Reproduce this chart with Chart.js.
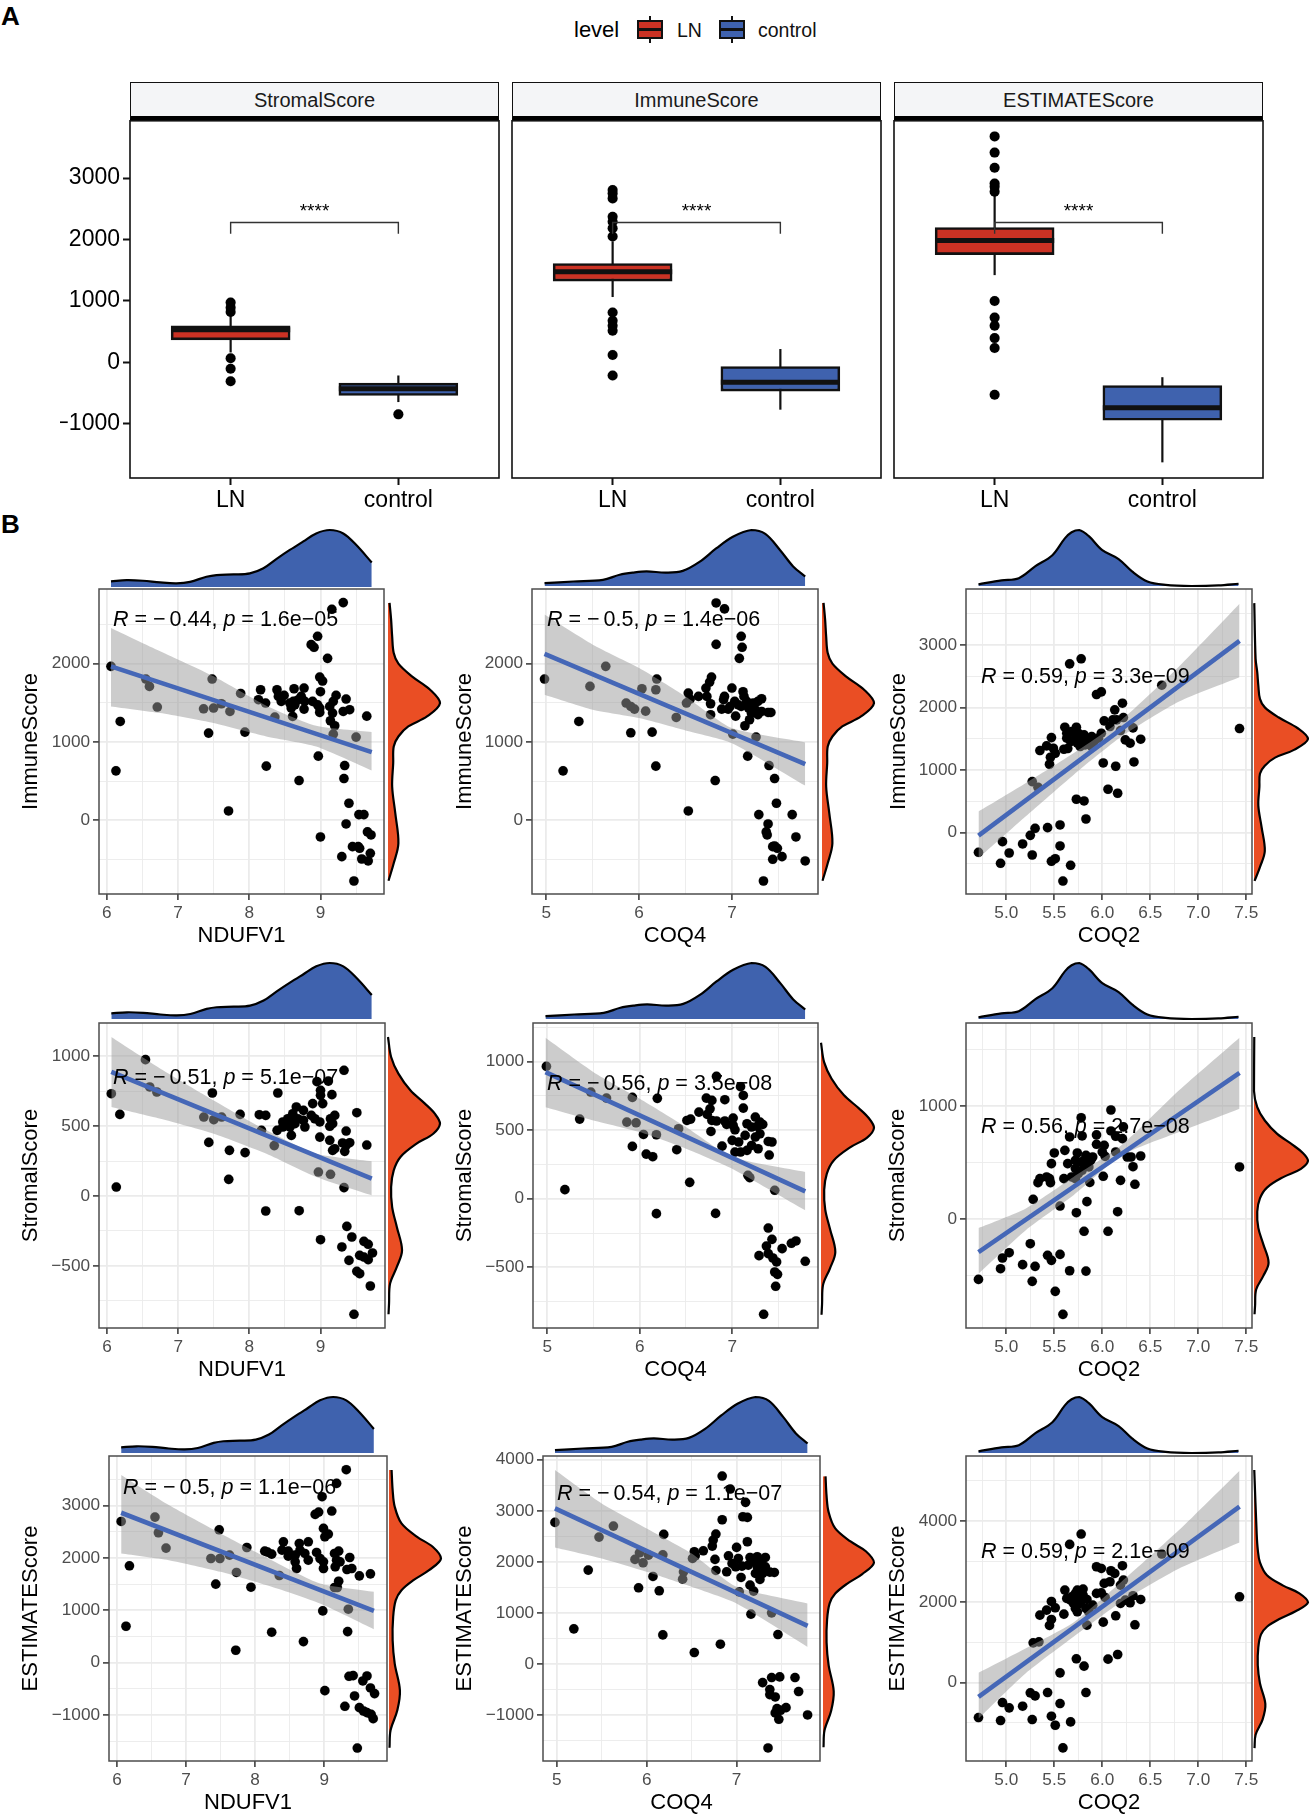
<!DOCTYPE html>
<html>
<head>
<meta charset="utf-8">
<title>Scores</title>
<script src="https://cdn.jsdelivr.net/npm/chart.js@4/dist/chart.umd.min.js"></script>
<style>
  body { margin: 0; background: #fff; }
  #page { position: relative; width: 1315px; height: 1818px; overflow: hidden; font-family: "Liberation Sans", Arial, sans-serif; }
  canvas { position: absolute; }
  .txt { position: absolute; white-space: pre; }
  .tag { font-size: 26px; font-weight: bold; color: #000; }
  .strip { position: absolute; box-sizing: border-box; border: 1.5px solid #111; border-bottom: 4px solid #000; background: #f4f5f7; font-size: 20px; color: #1a1a1a; text-align: center; line-height: 35px; }
  .rlab { position: absolute; white-space: pre; font-size: 21.5px; color: #000; transform: translateY(-50%); }
  .rlab .m { margin-right: 4px; }
  .key { position: absolute; box-sizing: border-box; border: 2.5px solid #111; }
  .key i { position: absolute; left: 0; right: 0; top: 50%; height: 3px; margin-top: -1.5px; background: #111; }
  .wh { position: absolute; width: 2px; background: #111; }
</style>
</head>
<body>
<div id="page"></div>
<script>
// panel A: box statistics, index 0 = LN, 1 = control
const boxCategories = ["LN", "control"];
const facetNames = ["StromalScore", "ImmuneScore", "ESTIMATEScore"];
const boxYTicks = [-1000, 0, 1000, 2000, 3000];

const stromalLow = [160, -648];
const stromalQ1 = [365, -540];
const stromalMedian = [530, -430];
const stromalQ3 = [592, -340];
const stromalHigh = [830, -215];
const stromalOutLN = [975, 890, 820, 65, -105, -310];
const stromalOutControl = [-848];

const immuneLow = [1063, -772];
const immuneQ1 = [1322, -470];
const immuneMedian = [1473, -324];
const immuneQ3 = [1608, -70];
const immuneHigh = [1970, 216];
const immuneOutLN = [2806, 2750, 2670, 2370, 2290, 2185, 2050, 810, 675, 594, 513, 119, -216];
const immuneOutControl = [];

const estimateLow = [1420, -1630];
const estimateQ1 = [1754, -944];
const estimateMedian = [1986, -740];
const estimateQ3 = [2196, -378];
const estimateHigh = [2750, -243];
const estimateOutLN = [3680, 3416, 3168, 2914, 2860, 2780, 998, 728, 594, 394, 232, -529];
const estimateOutControl = [];

// panel B: scatter values read per panel
const immuneNdufv1X = [9.32,9.16,8.96,8.87,8.91,9.10,6.06,8.99,9.03,6.55,7.48,6.60,8.77,8.63,8.16,8.39,7.88,9.00,9.22,9.36,8.49,8.41,8.13,8.23,8.45,8.73,8.78,8.69,8.62,8.57,8.64,8.89,8.96,9.18,9.13,8.99,8.59,8.77,6.71,7.36,7.50,7.61,7.73,9.41,9.32,9.17,8.99,8.61,8.36,9.65,9.14,6.19,9.20,7.43,7.94,9.18,9.50,8.97,9.34,8.24,6.13,9.33,8.70,9.40,7.71,9.54,9.61,9.36,9.66,9.71,9.00,9.45,9.53,9.55,9.70,9.30,9.58,9.67,9.47];
const immuneNdufv1Y = [2780,2695,2350,2243,2209,2068,1966,1829,1778,1804,1804,1710,1689,1680,1667,1667,1620,1642,1595,1548,1595,1582,1540,1497,1518,1582,1518,1540,1518,1497,1475,1518,1475,1518,1454,1433,1433,1420,1446,1424,1433,1488,1390,1412,1390,1369,1377,1326,1318,1330,1271,1262,1207,1113,1126,1100,1062,819,699,691,631,533,507,217,119,72,72,-47,-149,-188,-213,-337,-337,-358,-422,-465,-495,-520,-776];

const immuneCoq4X = [6.83,6.92,7.10,6.83,7.11,7.08,5.64,4.98,6.19,6.78,6.76,5.47,6.72,7.00,6.03,6.18,7.12,6.53,6.64,6.73,6.92,7.13,7.32,6.91,6.55,6.51,6.77,7.03,7.07,7.16,7.23,7.28,6.98,6.89,6.96,7.10,7.18,7.25,7.32,7.39,7.42,7.28,7.21,5.86,5.91,5.95,6.07,6.77,7.04,6.40,7.19,7.14,5.91,6.14,7.01,7.26,5.35,7.17,7.40,6.18,5.18,7.46,6.82,7.48,6.53,7.29,7.65,7.39,7.37,7.38,7.69,7.44,7.46,7.49,7.54,7.44,7.79,7.34];
const immuneCoq4Y = [2776,2700,2350,2247,2209,2068,1966,1804,1804,1829,1765,1710,1689,1689,1680,1667,1642,1625,1582,1582,1582,1582,1552,1540,1548,1497,1488,1518,1475,1518,1497,1518,1454,1420,1420,1454,1433,1412,1390,1377,1377,1348,1369,1497,1454,1420,1394,1348,1330,1313,1284,1207,1117,1126,1100,1062,1262,819,699,691,631,533,507,217,119,72,72,-47,-149,-188,-213,-337,-328,-358,-465,-499,-520,-776];

const immuneCoq2X = [5.78,5.66,6.62,5.94,5.99,6.21,6.13,6.22,6.02,6.11,6.15,5.61,5.73,7.43,5.47,6.32,5.99,6.08,6.19,5.63,5.68,5.75,5.81,5.89,5.63,5.72,5.79,5.86,5.67,5.74,5.77,5.82,5.91,5.42,5.49,5.35,5.60,5.64,5.51,5.46,5.45,6.24,6.29,6.40,6.01,6.14,6.33,5.27,5.33,6.06,6.16,5.73,5.81,5.83,5.56,5.30,5.43,5.25,4.96,5.17,5.56,5.03,5.27,5.51,5.47,4.71,4.94,5.67,5.59,5.89,5.96];
const immuneCoq2Y = [2776,2696,2355,2206,2248,2067,1961,1838,1785,1801,1801,1684,1684,1662,1518,1673,1588,1694,1630,1588,1614,1588,1561,1534,1508,1508,1481,1454,1454,1428,1375,1401,1438,1385,1348,1311,1332,1343,1268,1204,1092,1481,1428,1492,1113,1060,1129,815,725,693,629,533,506,218,123,69,80,-43,-144,-181,-213,-325,-357,-416,-458,-314,-490,-522,-773,1375,1508];

const stromalNdufv1X = [9.33,6.54,8.95,9.11,9.00,9.00,9.16,6.06,7.48,8.40,6.60,6.70,9.03,8.89,8.66,8.76,9.51,7.87,8.14,8.23,8.87,6.18,9.20,9.14,9.17,9.13,8.99,8.92,8.61,8.54,8.47,8.59,8.68,8.76,8.47,8.57,8.64,8.78,7.50,7.36,7.61,8.17,8.39,8.59,9.36,8.99,9.13,9.31,9.41,9.65,9.20,9.34,9.17,9.36,7.43,8.35,7.72,7.94,8.97,9.14,7.71,6.13,9.33,8.23,8.70,9.37,9.00,9.44,9.61,9.67,9.30,9.73,9.55,9.61,9.67,9.40,9.51,9.55,9.70,9.47];
const stromalNdufv1Y = [898,974,817,821,755,719,724,731,736,736,779,743,660,660,636,612,595,583,581,576,576,583,576,552,517,498,529,552,588,552,529,529,552,540,493,493,517,493,545,564,564,469,469,433,464,421,398,379,381,364,338,319,326,362,383,360,326,310,171,155,119,64,60,-107,-105,-217,-312,-293,-324,-345,-364,-407,-424,-436,-455,-460,-538,-555,-643,-845];

const stromalCoq4X = [6.83,4.99,7.09,7.12,6.19,5.92,5.47,5.64,6.72,6.78,6.92,7.12,6.76,6.64,6.73,7.25,7.01,5.35,6.55,6.51,6.78,6.83,6.92,7.16,7.30,7.33,6.94,7.01,7.27,7.21,7.03,5.86,5.96,6.42,6.77,6.04,6.18,7.14,7.30,7.25,7.00,7.07,7.39,7.43,7.21,7.28,5.92,6.89,6.40,7.16,7.03,7.09,6.07,6.14,7.40,7.17,7.19,6.54,5.19,7.46,6.18,6.82,7.39,7.43,7.69,7.64,7.37,7.54,7.29,7.39,7.44,7.48,7.79,7.46,7.49,7.47,7.34];
const stromalCoq4Y = [891,964,816,752,731,738,777,733,733,716,721,660,655,631,614,595,587,580,580,570,570,566,566,546,558,541,541,534,527,522,502,558,553,510,490,468,466,461,473,449,425,413,417,413,388,364,381,383,357,352,340,340,325,306,318,170,153,119,66,61,-109,-107,-214,-296,-308,-325,-345,-364,-415,-400,-432,-461,-456,-534,-551,-638,-842];

const stromalCoq2X = [6.09,5.78,6.22,6.09,5.79,5.66,5.94,6.14,6.21,5.94,6.02,5.61,5.50,5.74,5.83,5.90,6.00,6.03,6.14,6.26,6.30,6.40,7.43,5.47,5.64,5.72,5.77,5.84,5.72,5.79,6.32,5.42,5.35,5.33,5.45,5.46,5.60,5.72,6.01,6.19,5.87,6.34,5.28,5.84,5.56,5.73,6.16,5.81,6.06,5.25,5.03,4.96,5.43,5.47,5.56,5.17,5.30,4.94,5.66,5.83,4.71,5.27,5.51,5.59,5.86,5.75,5.68,5.81,5.88];
const stromalCoq2Y = [967,899,817,781,737,728,746,734,713,663,654,609,586,586,565,550,595,556,595,550,550,559,462,491,491,521,506,491,447,432,464,373,358,322,358,322,358,358,379,343,325,308,175,154,115,56,65,-109,-109,-219,-299,-346,-322,-367,-314,-405,-420,-441,-459,-462,-536,-553,-642,-846,462,402,373,521,521];

const estimateNdufv1X = [9.32,9.18,8.97,9.11,8.87,8.92,6.55,6.06,7.48,8.99,9.06,9.01,6.60,8.41,8.77,8.64,7.88,6.71,8.14,8.18,8.24,8.39,8.48,8.48,8.65,8.89,8.72,8.58,9.21,9.15,9.37,8.77,8.58,8.94,8.99,9.18,9.23,7.36,7.49,7.63,8.60,8.99,9.16,9.33,9.40,6.18,9.51,9.67,7.73,8.35,9.21,7.43,7.94,9.15,9.19,8.98,9.35,6.13,8.24,9.34,8.70,7.72,9.42,9.36,9.62,9.56,9.67,9.73,9.01,9.44,9.30,9.51,9.57,9.62,9.68,9.71,9.48];
const estimateNdufv1Y = [3682,3420,3166,2892,2828,2873,2777,2694,2535,2561,2452,2401,2478,2306,2306,2274,2197,2185,2127,2108,2070,2146,2127,2032,2146,2102,2083,2051,2127,2083,2006,1955,1924,1987,1924,1955,1924,1987,1987,2051,1796,1796,1828,1777,1796,1847,1656,1694,1720,1662,1554,1497,1439,1433,1433,987,1019,694,580,592,401,236,-248,-261,-255,-350,-484,-592,-535,-637,-834,-860,-924,-955,-987,-1070,-1631];

const estimateCoq4X = [6.84,6.93,7.10,7.07,7.12,6.84,4.98,5.63,6.19,6.77,5.47,7.12,6.74,6.73,7.00,6.63,6.53,5.92,6.54,6.91,6.02,6.18,7.02,7.15,7.23,7.32,6.51,6.76,5.87,5.96,6.95,7.06,6.99,7.19,7.28,7.13,7.23,7.32,7.37,7.42,6.77,6.89,6.41,7.21,7.29,7.05,7.26,6.07,6.40,7.15,5.91,5.35,7.19,6.14,7.03,7.16,7.39,5.19,6.18,7.46,6.82,6.53,7.29,7.39,7.48,7.65,7.37,7.69,7.37,7.43,7.55,7.45,7.49,7.43,7.47,7.79,7.35];
const estimateCoq4Y = [3681,3427,3166,2885,2872,2826,2774,2702,2539,2546,2487,2396,2428,2311,2285,2219,2200,2180,2121,2121,2134,2141,2069,2089,2102,2089,2069,2050,2050,1984,1971,1919,1906,2004,1971,1939,1906,1906,1802,1795,1834,1808,1808,1775,1775,1697,1658,1717,1664,1547,1495,1841,1430,1436,1416,979,1005,692,574,581,392,228,-359,-261,-248,-261,-496,-535,-594,-640,-849,-868,-901,-953,-1077,-992,-1638];

const estimateCoq2X = [5.78,5.66,6.62,6.21,5.94,5.99,6.09,6.13,6.22,6.08,6.02,6.19,5.61,5.80,5.74,5.94,5.99,6.03,6.32,6.24,5.47,6.40,6.29,6.19,5.68,5.63,5.75,5.84,5.70,5.77,5.90,5.72,5.42,5.51,5.60,5.83,5.86,5.35,5.47,5.45,6.14,6.01,5.84,6.34,5.28,5.34,6.16,6.06,5.73,5.81,5.56,5.25,5.30,5.43,5.83,4.96,5.56,5.03,5.17,5.47,5.27,4.71,4.94,5.67,5.51,5.59,7.43,5.72,5.67,5.80,5.74];
const estimateCoq2Y = [3678,3421,3182,2893,2868,2826,2769,2702,2537,2496,2455,2413,2289,2314,2289,2207,2223,2107,2149,2041,2008,2058,1975,1959,2124,2083,2083,2058,1959,1959,1917,1835,1793,1851,1694,1835,1752,1669,1562,1413,1653,1496,1421,1430,983,1008,694,579,587,405,240,-256,-331,-248,-248,-496,-521,-628,-587,-835,-917,-868,-942,-975,-1058,-1620,2124,2207,2041,2165,1752];

// regression fits and confidence bands
const col1BandX = [6.06, 6.75, 7.5, 8.24, 8.94, 9.72];
const col2BandX = [4.98, 5.5, 6, 6.5, 7, 7.79];
const col3BandX = [4.71, 5.2, 5.7, 6.2, 6.8, 7.43];

const immuneNdufv1Fit = [1966, 870];
const immuneNdufv1Up = [2456, 2158, 1838, 1463, 1207, 1126];
const immuneNdufv1Lo = [1454, 1369, 1241, 1070, 942, 635];
const immuneCoq4Fit = [2124, 716];
const immuneCoq4Up = [2627, 2243, 1945, 1582, 1177, 994];
const immuneCoq4Lo = [1603, 1412, 1305, 1147, 985, 443];
const immuneCoq2Fit = [-48, 3063];
const immuneCoq2Up = [336, 788, 1268, 1800, 2653, 3655];
const immuneCoq2Lo = [-410, 256, 922, 1534, 2094, 2483];

const stromalNdufv1Fit = [886, 124];
const stromalNdufv1Up = [1136, 910, 683, 469, 302, 248];
const stromalNdufv1Lo = [636, 552, 445, 302, 136, 5];
const stromalCoq4Fit = [922, 53];
const stromalCoq4Up = [1172, 922, 728, 522, 303, 194];
const stromalCoq4Lo = [667, 570, 485, 364, 218, -85];
const stromalCoq2Fit = [-293, 1296];
const stromalCoq2Up = [-80, 92, 373, 654, 1142, 1609];
const stromalCoq2Lo = [-485, -101, 210, 565, 772, 979];

const estimateNdufv1Fit = [2860, 987];
const estimateNdufv1Up = [3580, 3006, 2465, 1955, 1510, 1350];
const estimateNdufv1Lo = [2083, 1955, 1732, 1446, 1127, 637];
const estimateCoq4Fit = [3048, 751];
const estimateCoq4Up = [3800, 3146, 2657, 2167, 1514, 1188];
const estimateCoq4Lo = [2285, 2069, 1808, 1514, 1188, 339];
const estimateCoq2Fit = [-355, 4355];
const estimateCoq2Up = [240, 843, 1488, 2496, 3777, 5248];
const estimateCoq2Lo = [-893, 223, 1132, 2000, 2826, 3471];

// marginal densities, relative height at a value
const ndufv1DensX = [6.06,6.28,6.51,6.75,6.98,7.17,7.40,7.54,7.78,8.01,8.20,8.38,8.57,8.76,8.94,9.13,9.32,9.50,9.72];
const ndufv1DensH = [.10,.12,.11,.08,.065,.09,.18,.21,.22,.24,.33,.49,.65,.80,.94,1,.94,.74,.43];
const coq4DensX = [4.98,5.29,5.61,5.79,5.94,6.08,6.29,6.47,6.65,6.83,7.01,7.21,7.36,7.52,7.66,7.79];
const coq4DensH = [.05,.08,.11,.20,.24,.26,.24,.27,.43,.67,.88,1,.93,.64,.35,.17];
const coq2DensX = [4.71,4.95,5.13,5.30,5.48,5.61,5.68,5.76,5.86,6.00,6.17,6.31,6.47,6.66,6.93,7.21,7.42];
const coq2DensH = [.03,.10,.14,.35,.55,.85,.96,1,.89,.64,.48,.26,.08,.02,0,.01,.04];
const immuneDensV = [2776,2563,2350,2136,2000,1838,1667,1497,1326,1198,1070,942,729,431,90,-294,-550,-772];
const immuneDensH = [.03,.06,.08,.11,.20,.46,.81,1,.75,.39,.20,.11,.10,.08,.14,.20,.11,.01];
const stromalDensV = [1136,993,874,755,660,588,517,445,374,279,183,64,-79,-221,-388,-507,-626,-769,-845];
const stromalDensH = [0,.06,.20,.43,.71,.90,1,.87,.55,.24,.11,.06,.08,.17,.27,.17,.04,.02,.01];
const estimateDensV = [3675,3293,2975,2656,2401,2210,1987,1764,1573,1382,1191,873,427,-19,-529,-911,-1293,-1624];
const estimateDensH = [.05,.07,.11,.24,.54,.84,1,.77,.47,.24,.13,.08,.07,.11,.21,.16,.03,.01];

// tick labels
const ndufv1Ticks = [6, 7, 8, 9];
const coq4Ticks = [5, 6, 7];
const coq2Ticks = [5, 5.5, 6, 6.5, 7, 7.5];
const immuneTicks = [0, 1000, 2000];
const immuneTicksWide = [0, 1000, 2000, 3000];
const stromalTicks = [-500, 0, 500, 1000];
const stromalTicksWide = [0, 1000];
const estimateTicks = [-1000, 0, 1000, 2000, 3000];
const estimateTicksWide = [-1000, 0, 1000, 2000, 3000, 4000];
const estimateTicksCoq2 = [0, 2000, 4000];

const FONT = '"Liberation Sans", Arial, sans-serif';
const RED = "#cb3224";
const BLUE = "#3f62ae";
const ORANGE = "#ea4e24";
const LINE_BLUE = "#4567b7";
const GRID = "#ebebeb";

Chart.defaults.font.family = FONT;
Chart.defaults.animation = false;
Chart.defaults.events = [];

const page = document.getElementById("page");

function addDiv(cls, left, top, html, extra) {
  const d = document.createElement("div");
  d.className = cls;
  d.style.left = left + "px";
  d.style.top = top + "px";
  d.innerHTML = html || "";
  if (extra) Object.assign(d.style, extra);
  page.appendChild(d);
  return d;
}

function addCanvas(left, top, width, height) {
  const c = document.createElement("canvas");
  c.width = width;
  c.height = height;
  c.style.left = left + "px";
  c.style.top = top + "px";
  page.appendChild(c);
  return c.getContext("2d");
}

const framePlugin = {
  id: "frame",
  afterDraw(chart, args, opts) {
    const { left, top, width, height } = chart.chartArea;
    const ctx = chart.ctx;
    ctx.save();
    ctx.strokeStyle = opts.color;
    ctx.lineWidth = opts.width;
    ctx.strokeRect(left, top, width, height);
    ctx.restore();
  },
};

const starsPlugin = {
  id: "stars",
  afterDatasetsDraw(chart, args, opts) {
    const ctx = chart.ctx;
    ctx.save();
    ctx.fillStyle = "#000";
    ctx.font = "19px " + FONT;
    ctx.textAlign = "center";
    ctx.textBaseline = "middle";
    ctx.fillText("****", chart.scales.x.getPixelForValue(opts.x), chart.scales.y.getPixelForValue(opts.y) + 4);
    ctx.restore();
  },
};

/* ---------- panel A ---------- */
addDiv("txt tag", 1, 1, "A");
addDiv("txt tag", 1, 509, "B");

addDiv("txt", 574, 17, "level", { fontSize: "22px", color: "#000" });
addDiv("txt", 677, 19, "LN", { fontSize: "19.5px", color: "#111" });
addDiv("txt", 758, 19, "control", { fontSize: "19.5px", color: "#111" });
[[637, RED], [719, BLUE]].forEach(([x, col]) => {
  addDiv("wh", x + 12, 16, "", { height: "27px" });
  addDiv("key", x, 20, "<i></i>", { width: "26px", height: "19px", background: col });
});

const boxFacets = [
  { low: stromalLow, q1: stromalQ1, med: stromalMedian, q3: stromalQ3, high: stromalHigh, outs: [stromalOutLN, stromalOutControl] },
  { low: immuneLow, q1: immuneQ1, med: immuneMedian, q3: immuneQ3, high: immuneHigh, outs: [immuneOutLN, immuneOutControl] },
  { low: estimateLow, q1: estimateQ1, med: estimateMedian, q3: estimateQ3, high: estimateHigh, outs: [estimateOutLN, estimateOutControl] },
];
const boxLefts = [130, 512, 894];
const BOX_W = 369;
const BOX_T = 119;
const BOX_B = 478;
const BOX_HALF = 0.355;

boxFacets.forEach((f, i) => {
  const left = boxLefts[i];
  addDiv("strip", left, 82, facetNames[i], { width: BOX_W + "px", height: "38px" });

  const yW = 70;
  const ctx = addCanvas(left - yW, BOX_T - 15, yW + BOX_W + 30, 15 + (BOX_B - BOX_T) + 60);
  const datasets = [];
  const lineDs = (data, color, width) => ({ type: "line", data, borderColor: color, borderWidth: width, pointRadius: 0, tension: 0, order: 1, clip: false });

  [0, 1].forEach((k) => {
    const x = k + 1;
    datasets.push(lineDs([{ x, y: f.low[k] }, { x, y: f.high[k] }], "#111", 2.2));
    datasets[datasets.length - 1].order = 4;
    datasets.push(lineDs([{ x: x - BOX_HALF, y: f.med[k] }, { x: x + BOX_HALF, y: f.med[k] }], "#111", 5));
    datasets.push({ type: "scatter", data: f.outs[k].map((y) => ({ x, y })), backgroundColor: "#000", pointRadius: 5, order: 2 });
  });
  datasets.push({
    type: "bar",
    data: [0, 1].map((k) => ({ x: k + 1, y: [f.q1[k], f.q3[k]] })),
    backgroundColor: [RED, BLUE],
    borderColor: "#111",
    borderWidth: 2.6,
    borderSkipped: false,
    barThickness: 119,
    grouped: false,
    order: 3,
  });
  // comparison bracket
  datasets.push(lineDs([{ x: 1, y: 2094 }, { x: 1, y: 2278 }, { x: 2, y: 2278 }, { x: 2, y: 2094 }], "#333", 1.4));

  new Chart(ctx, {
    data: { datasets },
    plugins: [framePlugin, starsPlugin],
    options: {
      responsive: false,
      layout: { padding: { top: 15, right: 30 } },
      plugins: {
        legend: { display: false },
        tooltip: { enabled: false },
        frame: { color: "#111", width: 1.6 },
        stars: { x: 1.5, y: 2520 },
      },
      scales: {
        x: {
          type: "linear",
          min: 0.4,
          max: 2.6,
          offset: false,
          afterBuildTicks: (s) => { s.ticks = [{ value: 1 }, { value: 2 }]; },
          afterFit: (s) => { s.height = 60; },
          grid: { drawOnChartArea: false, offset: false, tickLength: 7, tickColor: "#111", tickWidth: 2 },
          border: { display: false },
          ticks: { autoSkip: false, maxRotation: 0, padding: 2, color: "#000", font: { size: 23 }, callback: (v) => boxCategories[v - 1] },
        },
        y: {
          type: "linear",
          min: -1885,
          max: 3934,
          afterBuildTicks: (s) => { s.ticks = boxYTicks.map((value) => ({ value })); },
          afterFit: (s) => { s.width = yW; },
          grid: { drawOnChartArea: false, tickLength: i === 0 ? 7 : 0, tickColor: "#111", tickWidth: 2 },
          border: { display: false },
          ticks: { autoSkip: false, padding: 3, color: "#000", font: { size: 23 }, callback: (v) => (i === 0 ? String(v).replace("-", "\u2212") : "") },
        },
      },
    },
  });
});

/* ---------- panel B ---------- */
function withMinor(major) {
  const step = major.length > 1 ? major[1] - major[0] : 1;
  const out = major.map((v) => ({ value: v, isMajor: true }));
  major.forEach((v) => out.push({ value: v + step / 2, isMajor: false }));
  out.push({ value: major[0] - step / 2, isMajor: false });
  return out;
}

function axisOptions(major, min, max, label, decimals, sizeFn) {
  const marks = withMinor(major).filter((t) => t.value >= min && t.value <= max);
  const isMajor = (v) => major.includes(v);
  return {
    type: "linear",
    min,
    max,
    afterBuildTicks: (s) => { s.ticks = marks.map((t) => ({ value: t.value })); },
    afterFit: sizeFn,
    grid: {
      color: GRID,
      lineWidth: (c) => (c.tick && isMajor(c.tick.value) ? 1.8 : 0.9),
      tickLength: 6,
      tickColor: "#333",
      tickWidth: (c) => (c.tick && isMajor(c.tick.value) ? 1.5 : 0),
    },
    border: { display: false },
    title: { display: true, text: label, color: "#000", font: { size: 22 }, padding: 0 },
    ticks: {
      autoSkip: false,
      maxRotation: 0,
      padding: 3,
      color: "#4d4d4d",
      font: { size: 17.2 },
      callback: (v) => (isMajor(v) ? v.toFixed(decimals).replace("-", "\u2212") : ""),
    },
  };
}

const columns = {
  NDUFV1: { ticks: ndufv1Ticks, decimals: 0, bandX: col1BandX, densX: ndufv1DensX, densH: ndufv1DensH },
  COQ4: { ticks: coq4Ticks, decimals: 0, bandX: col2BandX, densX: coq4DensX, densH: coq4DensH },
  COQ2: { ticks: coq2Ticks, decimals: 1, bandX: col3BandX, densX: coq2DensX, densH: coq2DensH },
};
const rows = {
  ImmuneScore: { densV: immuneDensV, densH: immuneDensH },
  StromalScore: { densV: stromalDensV, densH: stromalDensH },
  ESTIMATEScore: { densV: estimateDensV, densH: estimateDensH },
};

const scatterPanels = [
  { gene: "NDUFV1", score: "ImmuneScore", xs: immuneNdufv1X, ys: immuneNdufv1Y, fit: immuneNdufv1Fit, up: immuneNdufv1Up, lo: immuneNdufv1Lo, yTicks: immuneTicks,
    r: "\u22120.44", p: "1.6e\u221205", box: [99, 384, 589, 894], xr: [5.892, 9.892], yr: [-942, 2954], dens: [530, 587], side: [388, 440], titleX: 31, lab: [113, 619] },
  { gene: "COQ4", score: "ImmuneScore", xs: immuneCoq4X, ys: immuneCoq4Y, fit: immuneCoq4Fit, up: immuneCoq4Up, lo: immuneCoq4Lo, yTicks: immuneTicks,
    r: "\u22120.5", p: "1.4e\u221206", box: [532, 818, 589, 894], xr: [4.845, 7.928], yr: [-942, 2954], dens: [530, 586], side: [822, 874], titleX: 465, lab: [547, 619] },
  { gene: "COQ2", score: "ImmuneScore", xs: immuneCoq2X, ys: immuneCoq2Y, fit: immuneCoq2Fit, up: immuneCoq2Up, lo: immuneCoq2Lo, yTicks: immuneTicksWide, sideTop: 3665,
    r: "0.59", p: "3.3e\u221209", box: [966, 1252, 589, 894], xr: [4.58, 7.56], yr: [-980, 3891], dens: [530, 586], side: [1254, 1308], titleX: 899, lab: [981, 676] },
  { gene: "NDUFV1", score: "StromalScore", xs: stromalNdufv1X, ys: stromalNdufv1Y, fit: stromalNdufv1Fit, up: stromalNdufv1Up, lo: stromalNdufv1Lo, yTicks: stromalTicks,
    r: "\u22120.51", p: "5.1e\u221207", box: [99, 385, 1023, 1328], xr: [5.887, 9.906], yr: [-943, 1236], dens: [963, 1019], side: [388, 440], titleX: 31, lab: [113, 1077] },
  { gene: "COQ4", score: "StromalScore", xs: stromalCoq4X, ys: stromalCoq4Y, fit: stromalCoq4Fit, up: stromalCoq4Up, lo: stromalCoq4Lo, yTicks: stromalTicks,
    r: "\u22120.56", p: "3.5e\u221208", box: [533, 818, 1023, 1328], xr: [4.845, 7.928], yr: [-942, 1280], dens: [963, 1019], side: [821, 874], titleX: 465, lab: [547, 1083] },
  { gene: "COQ2", score: "StromalScore", xs: stromalCoq2X, ys: stromalCoq2Y, fit: stromalCoq2Fit, up: stromalCoq2Up, lo: stromalCoq2Lo, yTicks: stromalTicksWide, sideTop: 1615,
    r: "0.56", p: "2.7e\u221208", box: [966, 1252, 1023, 1328], xr: [4.58, 7.56], yr: [-967, 1739], dens: [963, 1019], side: [1254, 1308], titleX: 898, lab: [981, 1126] },
  { gene: "NDUFV1", score: "ESTIMATEScore", xs: estimateNdufv1X, ys: estimateNdufv1Y, fit: estimateNdufv1Fit, up: estimateNdufv1Up, lo: estimateNdufv1Lo, yTicks: estimateTicks,
    r: "\u22120.5", p: "1.1e\u221206", box: [109, 387, 1456, 1761], xr: [5.884, 9.91], yr: [-1878, 3943], dens: [1397, 1453], side: [389, 441], titleX: 31, lab: [123, 1487] },
  { gene: "COQ4", score: "ESTIMATEScore", xs: estimateCoq4X, ys: estimateCoq4Y, fit: estimateCoq4Fit, up: estimateCoq4Up, lo: estimateCoq4Lo, yTicks: estimateTicksWide,
    r: "\u22120.54", p: "1.1e\u221207", box: [543, 820, 1456, 1761], xr: [4.847, 7.928], yr: [-1893, 4073], dens: [1397, 1453], side: [823, 874], titleX: 465, lab: [557, 1493] },
  { gene: "COQ2", score: "ESTIMATEScore", xs: estimateCoq2X, ys: estimateCoq2Y, fit: estimateCoq2Fit, up: estimateCoq2Up, lo: estimateCoq2Lo, yTicks: estimateTicksCoq2, sideTop: 5264,
    r: "0.59", p: "2.1e\u221209", box: [966, 1252, 1456, 1761], xr: [4.58, 7.56], yr: [-1944, 5611], dens: [1397, 1453], side: [1254, 1308], titleX: 898, lab: [981, 1551] },
];

function densityChart(ctx, data, fillColor, xr, yr, horizontal) {
  new Chart(ctx, {
    type: "line",
    data: {
      datasets: [{
        data,
        borderColor: "#000",
        borderWidth: 2.2,
        backgroundColor: fillColor,
        fill: "origin",
        pointRadius: 0,
        tension: 0.35,
        clip: false,
      }],
    },
    options: {
      responsive: false,
      indexAxis: horizontal ? "y" : "x",
      layout: { padding: 3 },
      plugins: { legend: { display: false }, tooltip: { enabled: false } },
      scales: {
        x: { type: "linear", display: false, min: xr[0], max: xr[1] },
        y: { type: "linear", display: false, min: yr[0], max: yr[1] },
      },
    },
  });
}

scatterPanels.forEach((p) => {
  const [l, r, t, b] = p.box;
  const col = columns[p.gene];
  const row = rows[p.score];
  const xBottom = 55;
  const canvasLeft = Math.round(p.titleX - 13.2);
  const yW = l - canvasLeft;

  const ctx = addCanvas(canvasLeft, t - 15, yW + (r - l) + 30, 15 + (b - t) + xBottom);
  const bandX = col.bandX;
  new Chart(ctx, {
    data: {
      datasets: [
        {
          type: "scatter",
          data: p.xs.map((x, i) => ({ x, y: p.ys[i] })),
          backgroundColor: "#000",
          pointRadius: 4.8,
          order: 4,
        },
        {
          type: "line",
          data: bandX.map((x, i) => ({ x, y: p.up[i] })),
          borderWidth: 0,
          pointRadius: 0,
          tension: 0.2,
          order: 3,
        },
        {
          type: "line",
          data: bandX.map((x, i) => ({ x, y: p.lo[i] })),
          borderWidth: 0,
          pointRadius: 0,
          tension: 0.2,
          fill: "-1",
          backgroundColor: "rgba(153,153,153,0.5)",
          order: 2,
        },
        {
          type: "line",
          data: [{ x: bandX[0], y: p.fit[0] }, { x: bandX[bandX.length - 1], y: p.fit[1] }],
          borderColor: LINE_BLUE,
          borderWidth: 4.6,
          pointRadius: 0,
          order: 1,
        },
      ],
    },
    plugins: [framePlugin],
    options: {
      responsive: false,
      layout: { padding: { top: 15, right: 30 } },
      plugins: {
        legend: { display: false },
        tooltip: { enabled: false },
        frame: { color: "#4d4d4d", width: 1.5 },
      },
      scales: {
        x: axisOptions(col.ticks, p.xr[0], p.xr[1], p.gene, col.decimals, (s) => { s.height = xBottom; }),
        y: axisOptions(p.yTicks, p.yr[0], p.yr[1], p.score, 0, (s) => { s.width = yW; }),
      },
    },
  });

  // marginal densities
  const topCtx = addCanvas(l - 3, p.dens[0] - 3, r - l + 6, p.dens[1] - p.dens[0] + 6);
  densityChart(topCtx, col.densX.map((x, i) => ({ x, y: col.densH[i] })), BLUE, p.xr, [0, 1], false);
  const sideCtx = addCanvas(p.side[0] - 3, t - 3, p.side[1] - p.side[0] + 6, b - t + 6);
  const sideData = row.densV.map((y, i) => ({ x: row.densH[i], y }));
  if (p.sideTop) sideData.unshift({ x: 0.005, y: p.sideTop });
  densityChart(sideCtx, sideData, ORANGE, [0, 1], p.yr, true);

  const rHtml = p.r.startsWith("\u2212") ? '<span class="m">\u2212</span>' + p.r.slice(1) : p.r;
  addDiv("rlab", p.lab[0], p.lab[1], "<i>R</i> = " + rHtml + ", <i>p</i> = " + p.p);
});
</script>
</body>
</html>
